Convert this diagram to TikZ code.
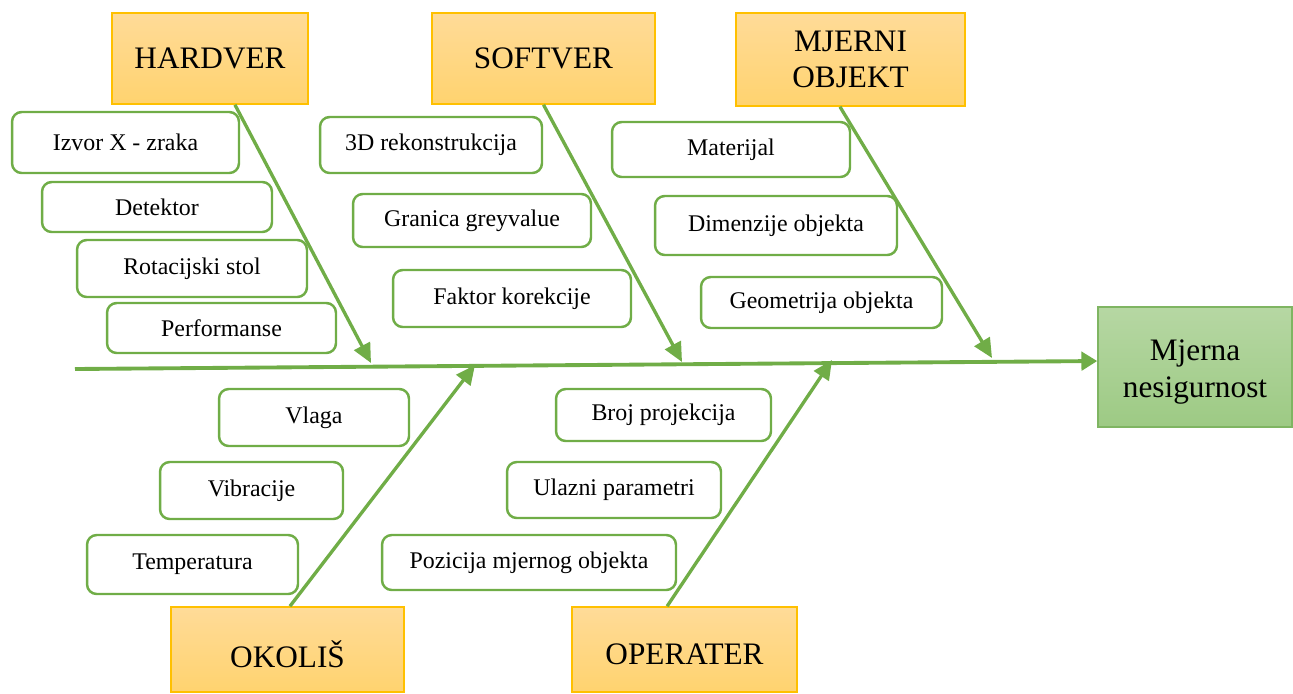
\documentclass[tikz,border=0pt]{standalone}
\usepackage{fontspec}
\setmainfont{Liberation Serif}
\usepackage{tikz}
\usetikzlibrary{arrows.meta,positioning}

\definecolor{bonegreen}{HTML}{70AD47}
\definecolor{cattop}{HTML}{FFDB98}
\definecolor{catbottom}{HTML}{FFD36F}
\definecolor{catborder}{HTML}{FFC000}
\definecolor{efftop}{HTML}{B6D7A3}
\definecolor{effbottom}{HTML}{9DCA84}
\definecolor{effborder}{HTML}{7FB562}

\newcommand{\lowtext}[1]{\raisebox{-2.8pt}[\height][\depth]{#1}}

\begin{document}
\begin{tikzpicture}[x=0.02cm,y=-0.02cm]
        \useasboundingbox (0,0) rectangle (1293,693);
        % main categories
        \begin{scope}[every node/.style={draw=catborder,line width=0.9pt,top color=cattop,bottom color=catbottom,align=center,font=\fontsize{17.8}{20.5}\selectfont}]
            \node [minimum width=3.92cm,minimum height=1.82cm] (hw) at (210,58.5) {HARDVER};
            \node [minimum width=4.46cm,minimum height=1.82cm] (sw) at (543.5,58.5) {SOFTVER};
            \node [minimum width=4.58cm,minimum height=1.86cm] (mo) at (850.5,59.5) {MJERNI\\OBJEKT};
            \node [minimum width=4.66cm,minimum height=1.7cm] (ok) at (287.5,649.5) {\lowtext{OKOLIŠ}};
            \node [minimum width=4.5cm,minimum height=1.7cm] (op) at (684.5,649.5) {\lowtext{OPERATER}};
        \end{scope}
        % effect
        \node [draw=effborder,line width=0.9pt,top color=efftop,bottom color=effbottom,align=center,
               font=\fontsize{17.8}{21}\selectfont,minimum width=3.88cm,minimum height=2.4cm]
               (eff) at (1195,367) {\lowtext{Mjerna}\\\lowtext{nesigurnost}};
        % causes
        \begin{scope}[every node/.style={draw=bonegreen,line width=1.4pt,rounded corners=5.5pt,fill=white,font=\fontsize{13.6}{16}\selectfont}]
            \node [minimum width=4.54cm,minimum height=1.22cm] (izvor) at (125.5,142.5) {Izvor X - zraka};
            \node [minimum width=4.6cm,minimum height=1.0cm] (det) at (157,207) {Detektor};
            \node [minimum width=4.6cm,minimum height=1.14cm] (rot) at (192,268.5) {Rotacijski stol};
            \node [minimum width=4.58cm,minimum height=1.0cm] (perf) at (221.5,328) {Performanse};

            \node [minimum width=4.44cm,minimum height=1.12cm] (rek) at (431,145) {3D rekonstrukcija};
            \node [minimum width=4.76cm,minimum height=1.06cm] (gran) at (472,220.5) {Granica greyvalue};
            \node [minimum width=4.76cm,minimum height=1.14cm] (fak) at (512,298.5) {Faktor korekcije};

            \node [minimum width=4.76cm,minimum height=1.1cm] (mat) at (731,149.5) {Materijal};
            \node [minimum width=4.84cm,minimum height=1.18cm] (dim) at (776,225.5) {Dimenzije objekta};
            \node [minimum width=4.82cm,minimum height=1.02cm] (geo) at (821.5,302.5) {Geometrija objekta};

            \node [minimum width=3.8cm,minimum height=1.14cm] (vlaga) at (314,417.5) {Vlaga};
            \node [minimum width=3.66cm,minimum height=1.14cm] (vib) at (251.5,490.5) {Vibracije};
            \node [minimum width=4.22cm,minimum height=1.18cm] (temp) at (192.5,564.5) {Temperatura};

            \node [minimum width=4.3cm,minimum height=1.04cm] (broj) at (663.5,415) {Broj projekcija};
            \node [minimum width=4.28cm,minimum height=1.12cm] (ulaz) at (614,490) {Ulazni parametri};
            \node [minimum width=5.88cm,minimum height=1.1cm] (poz) at (529,562.5) {Pozicija mjernog objekta};
        \end{scope}
        % spine and bones
        \coordinate (spl) at (75,369);
        \coordinate (hwtip) at (371,363);
        \coordinate (swtip) at (682,362);
        \coordinate (motip) at (992,358);
        \coordinate (oktip) at (475,365);
        \coordinate (optip) at (832,360);
        \draw[bonegreen,line width=2.2pt,-{Triangle[length=9pt,width=10.5pt]}] (spl) -- ([yshift=3.4pt]eff.west);
        \begin{scope}[bonegreen,line width=1.9pt,-{Triangle[length=11pt,width=10pt]}]
            \draw ([xshift=14.2pt]hw.south) -- (hwtip);
            \draw (sw.south) -- (swtip);
            \draw ([xshift=-6pt]mo.south) -- (motip);
            \draw ([xshift=1.4pt]ok.north) -- (oktip);
            \draw ([xshift=-9.9pt]op.north) -- (optip);
        \end{scope}
    \end{tikzpicture}
\end{document}
